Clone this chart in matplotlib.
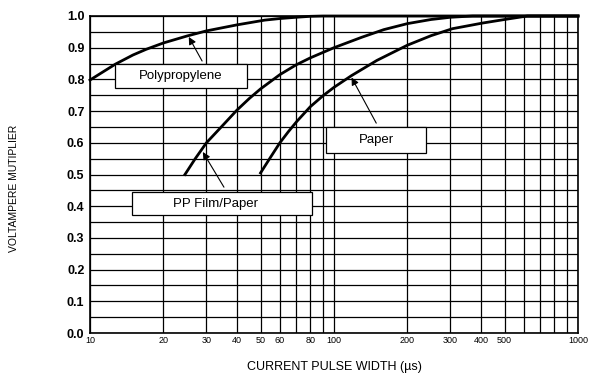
import numpy as np
import matplotlib.pyplot as plt
from matplotlib.patches import Rectangle

plt.rcParams['font.family'] = ['Liberation Sans', 'DejaVu Sans']

# curves: pulse width (us) vs voltampere multiplier
pp_x = [10, 11, 12.7, 15, 17, 20, 25, 30, 40, 52, 60, 70, 80, 90, 1000]
pp_y = [0.798, 0.818, 0.848, 0.877, 0.895, 0.915, 0.937, 0.953, 0.972, 0.987, 0.992, 0.996, 0.999, 1.0, 1.0]

film_x = [24.5, 27, 30, 35, 40, 45, 50, 60, 70, 80, 100, 130, 160, 200, 250, 300, 370, 1000]
film_y = [0.50, 0.55, 0.60, 0.655, 0.703, 0.74, 0.77, 0.815, 0.846, 0.868, 0.90, 0.933, 0.957, 0.976, 0.989, 0.996, 1.0, 1.0]

paper_x = [50, 55, 60, 65, 70.5, 80, 90, 100, 118, 150, 200, 250, 306, 408, 510, 620, 1000]
paper_y = [0.505, 0.555, 0.60, 0.635, 0.668, 0.714, 0.748, 0.775, 0.812, 0.86, 0.908, 0.938, 0.96, 0.978, 0.99, 1.0, 1.0]

xticks = [10, 20, 30, 40, 50, 60, 80, 100, 200, 300, 400, 500, 1000]
xgrid = [10, 20, 30, 40, 50, 60, 70, 80, 90, 100, 200, 300, 400, 500, 600, 700, 800, 900, 1000]
yticks = [0.0, 0.1, 0.2, 0.3, 0.4, 0.5, 0.6, 0.7, 0.8, 0.9, 1.0]

fig = plt.figure(figsize=(5.93, 3.76), dpi=100)
ax = fig.add_axes([90 / 593, 43 / 376, 488 / 593, 317 / 376])
ax.set_xscale('log')
ax.set_xlim(10, 1000)
ax.set_ylim(0, 1.0)

# grid: every decade step on x, every 0.05 on y
for gx in xgrid:
    ax.axvline(gx, color='black', lw=0.9, zorder=1)
for gy in np.arange(0, 1.001, 0.05):
    ax.axhline(gy, color='black', lw=0.9, zorder=1)

for cx, cy in [(pp_x, pp_y), (film_x, film_y), (paper_x, paper_y)]:
    ax.plot(cx, cy, color='black', lw=2, zorder=3, clip_on=False,
            solid_joinstyle='round')

ax.set_xticks(xticks)
ax.set_xticklabels([str(t) for t in xticks], fontsize=6.5)
ax.xaxis.set_minor_locator(plt.NullLocator())
ax.set_yticks(yticks)
ax.set_yticklabels([f'{t:.1f}' for t in yticks], fontsize=9, fontweight='bold')
ax.tick_params(length=0, pad=4)
ax.tick_params(axis='x', pad=2)
for s in ax.spines.values():
    s.set_linewidth(1.2)


def label_box(x0, x1, y0, y1, text, tx, ty):
    ax.add_patch(Rectangle((x0, y0), x1 - x0, y1 - y0, facecolor='white',
                           edgecolor='black', lw=0.9, zorder=4))
    ax.text(tx, ty, text, fontsize=9.5, ha='center', va='center', zorder=5)


label_box(12.66, 43.9, 0.773, 0.849, 'Polypropylene', 23.6, 0.81)
label_box(14.9, 81.4, 0.372, 0.445, 'PP Film/Paper', 32.8, 0.407)
label_box(92.7, 237.7, 0.568, 0.65, 'Paper', 149, 0.609)

arrow = dict(arrowstyle='-|>', color='black', lw=0.8, mutation_scale=11, shrinkA=0, shrinkB=0)
ax.annotate('', xy=(25.4, 0.934), xytext=(28.8, 0.858), arrowprops=arrow, zorder=5)
ax.annotate('', xy=(29.0, 0.571), xytext=(35.4, 0.46), arrowprops=arrow, zorder=5)
ax.annotate('', xy=(118, 0.806), xytext=(149, 0.662), arrowprops=arrow, zorder=5)

fig.text(14 / 593, 1 - 188 / 376, 'VOLTAMPERE MUTIPLIER', rotation=90,
         ha='center', va='center', fontsize=7.5)
fig.text(334 / 593, 1 - 367 / 376, 'CURRENT PULSE WIDTH (µs)',
         ha='center', va='center', fontsize=9)

fig.savefig('out.png', dpi=100)
